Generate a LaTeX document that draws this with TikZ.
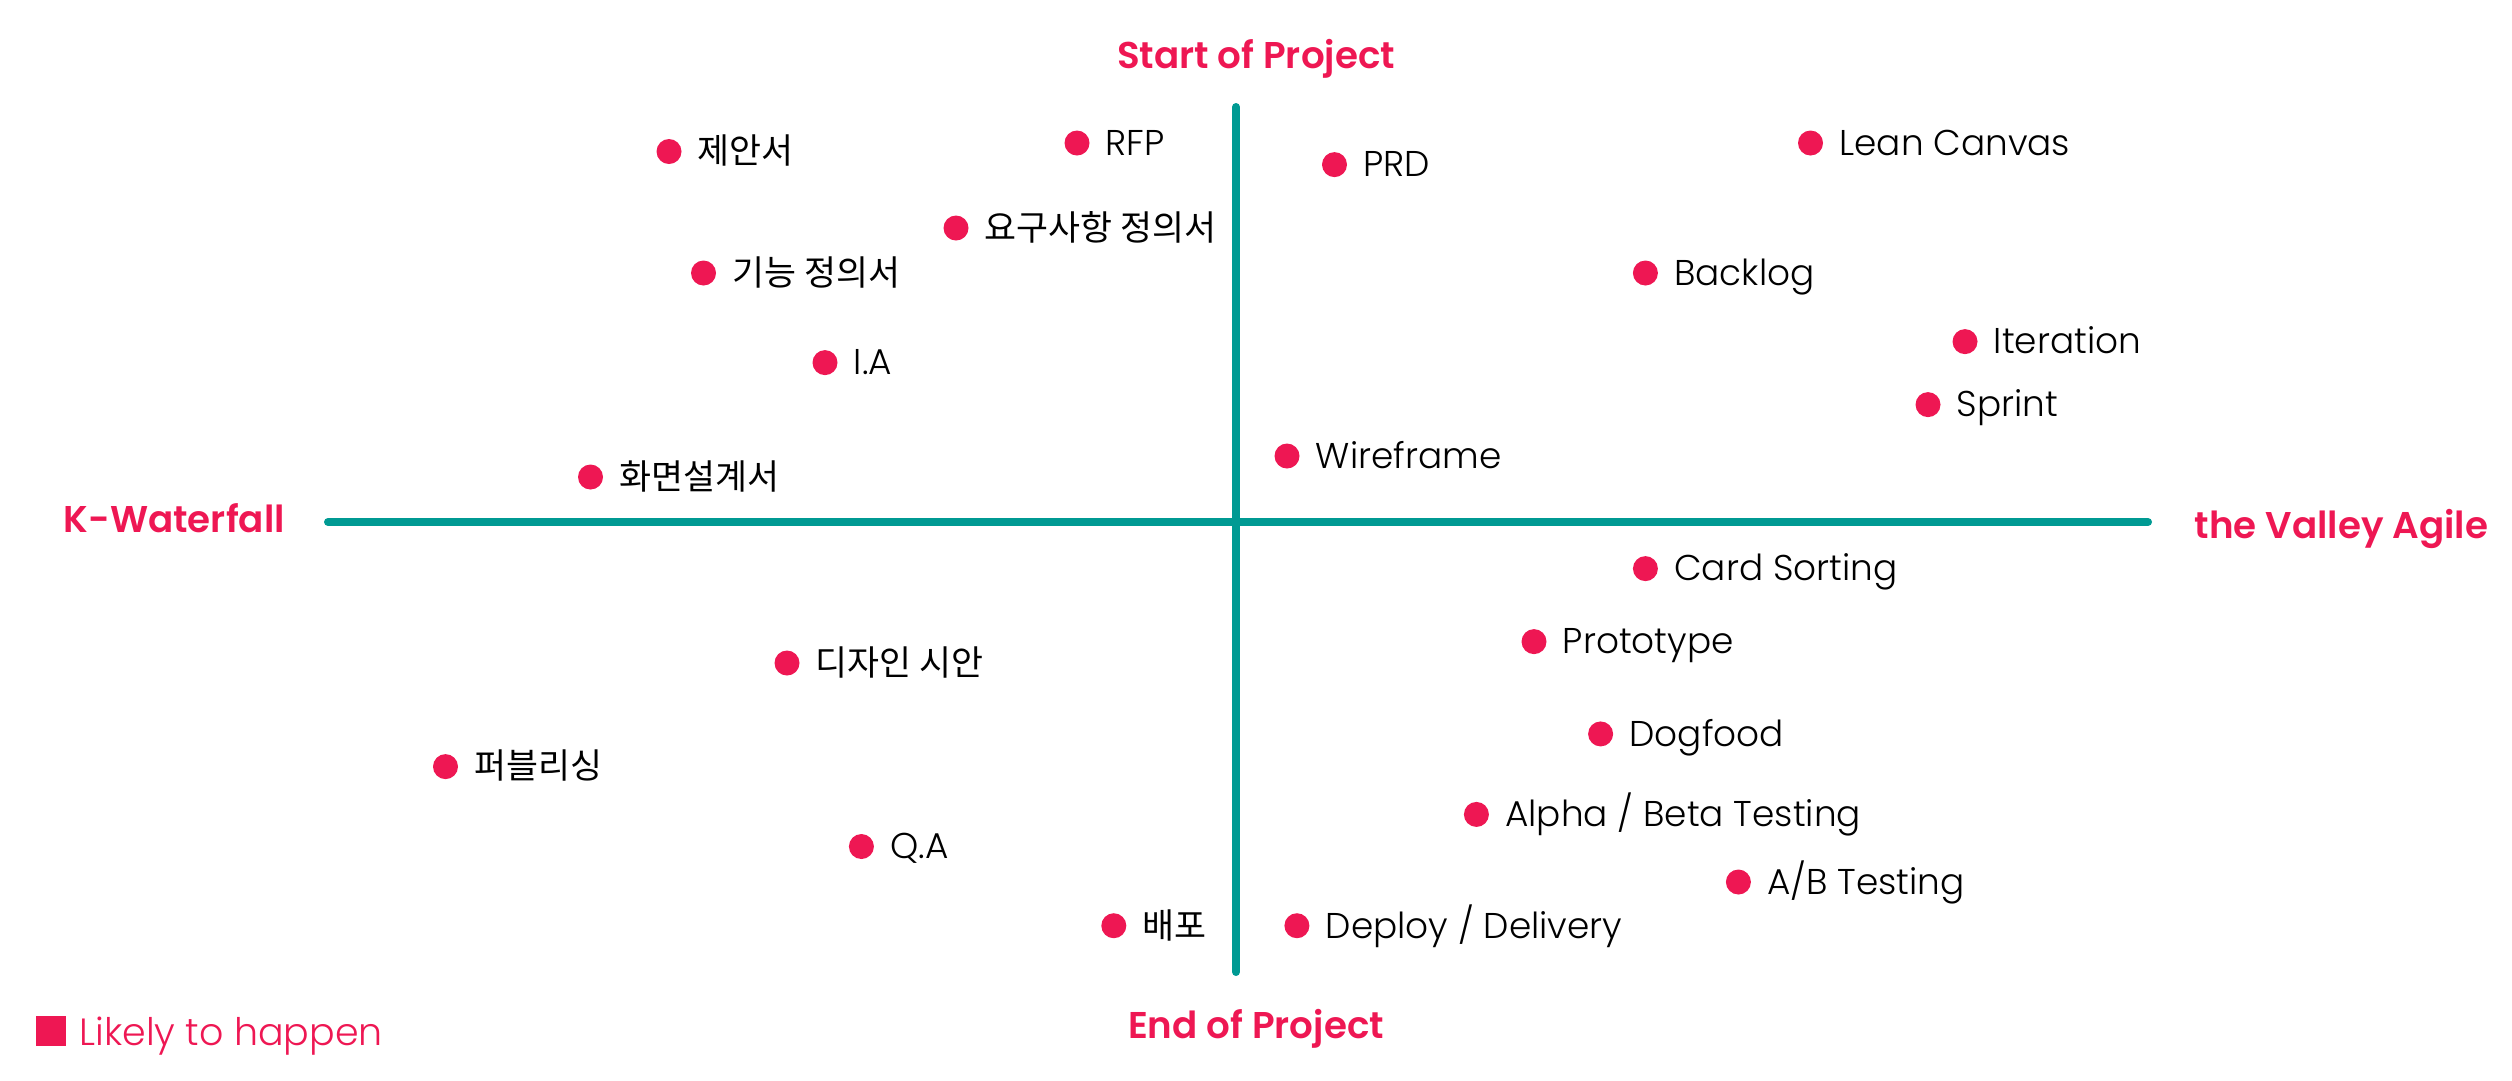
\documentclass[tikz,border=0pt]{standalone}
\usepackage{fontspec}
\setmainfont{Poppins}[UprightFont=* Light, BoldFont=* SemiBold]
\newfontfamily\kr{Noto Sans CJK KR}[Scale=0.97]
\usetikzlibrary{positioning}

\definecolor{accent}{HTML}{EE1753}
\definecolor{axisteal}{HTML}{009A93}

\tikzset{
    dot/.style={circle, fill=accent, inner sep=0pt, minimum size=2.5mm},
    lbl/.style={inner sep=0pt, text height=0.7em, text depth=0pt,
        font=\fontsize{10.2pt}{12pt}\selectfont},
    pole/.style={inner sep=0pt, text=accent, font=\fontsize{10.6pt}{12pt}\selectfont\bfseries},
    axis/.style={draw=axisteal, line width=0.8mm, line cap=round}
}

\begin{document}
\begin{tikzpicture}[x=0.1mm, y=-0.1mm, node distance=1.5mm]
    \useasboundingbox (0,0) rectangle (2512,1080);

    % Axes
    \coordinate (west) at (328,522);
    \coordinate (east) at (2148,522);
    \coordinate (north) at (1236,107);
    \coordinate (south) at (1236,972);
    \draw[axis] (west) -- (east);
    \draw[axis] (north) -- (south);

    % Axis ends
    \node[pole, anchor=base] (start) at (1256,68) {Start of Project};
    \node[pole, anchor=base] (end) at (1256,1038) {End of Project};
    \node[pole, anchor=base west] (kwf) at (63,532) {K-Waterfall};
    \node[pole, anchor=base west] (tva) at (2194,538) {the Valley Agile};

    % Waterfall side, before
    \node[dot] (proposal) at (669,151.5) {};
    \node[lbl, right=of proposal] (proposal-t) {\kr 제안서};
    \node[dot] (rfp) at (1077,143) {};
    \node[lbl, right=of rfp] (rfp-t) {RFP};
    \node[dot] (reqspec) at (956,228) {};
    \node[lbl, right=of reqspec] (reqspec-t) {\kr 요구사항 정의서};
    \node[dot] (funcspec) at (703.5,273) {};
    \node[lbl, right=of funcspec] (funcspec-t) {\kr 기능 정의서};
    \node[dot] (ia) at (825,362.6) {};
    \node[lbl, right=of ia] (ia-t) {I.A};
    \node[dot] (screen) at (590.5,477) {};
    \node[lbl, right=of screen] (screen-t) {\kr 화면설계서};

    % Agile side, before
    \node[dot] (prd) at (1334.5,164.6) {};
    \node[lbl, right=of prd] (prd-t) {PRD};
    \node[dot] (lean) at (1810.5,143) {};
    \node[lbl, right=of lean] (lean-t) {Lean Canvas};
    \node[dot] (backlog) at (1645.4,273) {};
    \node[lbl, right=of backlog] (backlog-t) {Backlog};
    \node[dot] (iter) at (1965,341.6) {};
    \node[lbl, right=of iter] (iter-t) {Iteration};
    \node[dot] (sprint) at (1928,404.6) {};
    \node[lbl, right=of sprint] (sprint-t) {Sprint};
    \node[dot] (wire) at (1287,456) {};
    \node[lbl, right=of wire] (wire-t) {Wireframe};

    % Waterfall side, after
    \node[dot] (design) at (787,663) {};
    \node[lbl, right=of design] (design-t) {\kr 디자인 시안};
    \node[dot] (publish) at (445.5,766.6) {};
    \node[lbl, right=of publish] (publish-t) {\kr 퍼블리싱};
    \node[dot] (qa) at (861.4,846.5) {};
    \node[lbl, right=of qa] (qa-t) {Q.A};
    \node[dot] (release) at (1113.8,925.7) {};
    \node[lbl, right=of release] (release-t) {\kr 배포};

    % Agile side, after
    \node[dot] (card) at (1645.4,568.6) {};
    \node[lbl, right=of card] (card-t) {Card Sorting};
    \node[dot] (proto) at (1534,641.6) {};
    \node[lbl, right=of proto] (proto-t) {Prototype};
    \node[dot] (dogfood) at (1600.6,733.9) {};
    \node[lbl, right=of dogfood] (dogfood-t) {Dogfood};
    \node[dot] (alpha) at (1476.4,814.4) {};
    \node[lbl, right=of alpha] (alpha-t) {Alpha / Beta Testing};
    \node[dot] (abtest) at (1738.4,882) {};
    \node[lbl, right=of abtest] (abtest-t) {A/B Testing};
    \node[dot] (deliver) at (1296.9,925.7) {};
    \node[lbl, right=of deliver] (deliver-t) {Deploy / Delivery};

    % Legend
    \node[fill=accent, inner sep=0pt, minimum size=3mm] (key) at (51,1031) {};
    \node[lbl, anchor=base west, text=accent, font=\fontsize{10.8pt}{13pt}\selectfont] (key-t) at (79,1045) {Likely to happen};
\end{tikzpicture}
\end{document}
